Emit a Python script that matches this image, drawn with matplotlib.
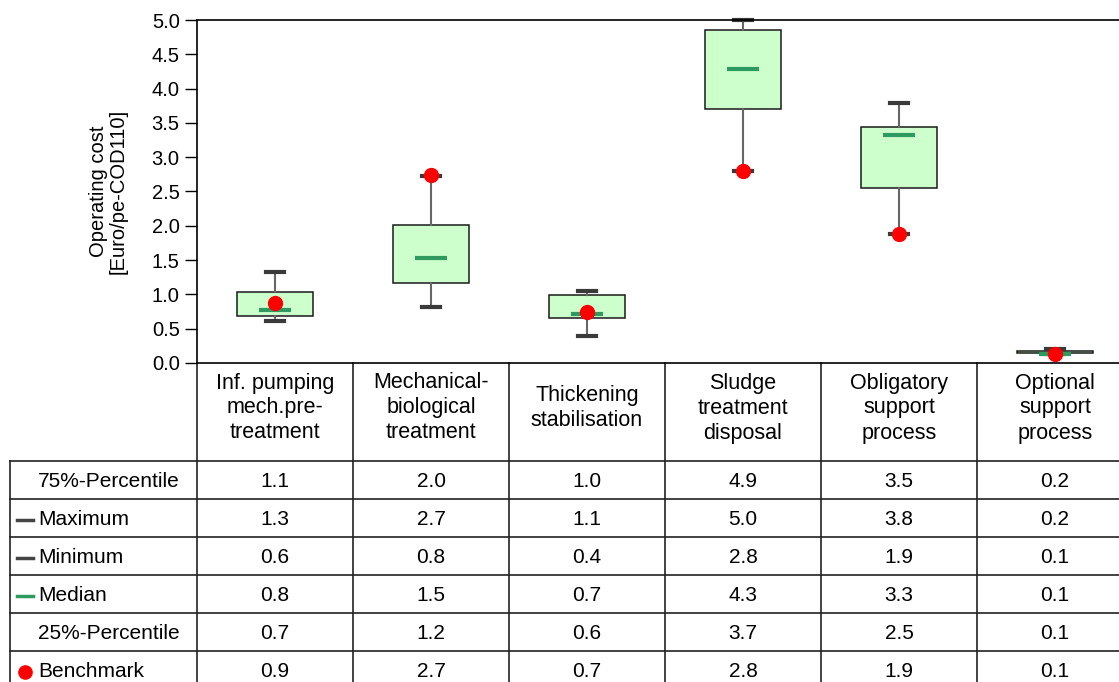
import matplotlib.pyplot as plt
import matplotlib.transforms as mtransforms

plt.rcParams['font.family'] = ['Liberation Sans', 'DejaVu Sans']

# box data (Euro/pe-COD110)
categories = ['Inf. pumping\nmech.pre-\ntreatment', 'Mechanical-\nbiological\ntreatment',
              'Thickening\nstabilisation', 'Sludge\ntreatment\ndisposal',
              'Obligatory\nsupport\nprocess', 'Optional\nsupport\nprocess']
q75 = [1.04, 2.01, 0.99, 4.85, 3.44, 0.18]
maximum = [1.32, 2.73, 1.05, 5.00, 3.79, 0.21]
minimum = [0.61, 0.82, 0.39, 2.80, 1.88, 0.13]
median = [0.77, 1.53, 0.71, 4.29, 3.32, 0.13]
q25 = [0.68, 1.17, 0.65, 3.70, 2.55, 0.14]
benchmark = [0.87, 2.74, 0.74, 2.80, 1.88, 0.13]

# table text
row_labels = ['75%-Percentile', 'Maximum', 'Minimum', 'Median', '25%-Percentile', 'Benchmark']
table_vals = [
    ['1.1', '2.0', '1.0', '4.9', '3.5', '0.2'],
    ['1.3', '2.7', '1.1', '5.0', '3.8', '0.2'],
    ['0.6', '0.8', '0.4', '2.8', '1.9', '0.1'],
    ['0.8', '1.5', '0.7', '4.3', '3.3', '0.1'],
    ['0.7', '1.2', '0.6', '3.7', '2.5', '0.1'],
    ['0.9', '2.7', '0.7', '2.8', '1.9', '0.1'],
]
yticks = [0.0, 0.5, 1.0, 1.5, 2.0, 2.5, 3.0, 3.5, 4.0, 4.5, 5.0]

W, H = 1119, 682
fig = plt.figure(figsize=(W / 100, H / 100), dpi=100)

# overlay in pixel coords for the table part
over = fig.add_axes([0, 0, 1, 1])
over.set_xlim(0, W)
over.set_ylim(H, 0)
over.axis('off')

ax_left, ax_right, ax_top, ax_bot = 197, 1133, 20, 363
ax = fig.add_axes([ax_left / W, (H - ax_bot) / H, (ax_right - ax_left) / W, (ax_bot - ax_top) / H])
ax.set_facecolor('none')

pos = list(range(1, len(categories) + 1))
stats = []
for i in range(len(categories)):
    stats.append(dict(med=median[i], q1=q25[i], q3=q75[i], whislo=minimum[i], whishi=maximum[i]))

ax.bxp(stats, positions=pos, widths=0.49, capwidths=0.12, showfliers=False,
       patch_artist=True,
       boxprops=dict(facecolor='#ccffcc', edgecolor='#1a1a1a', linewidth=1.1),
       whiskerprops=dict(color='#666666', linewidth=1.5),
       capprops=dict(color='#3a3a3a', linewidth=3),
       medianprops=dict(linewidth=0))
ax.hlines(median, [p - 0.105 for p in pos], [p + 0.105 for p in pos], color='#2e9a60', linewidth=3, zorder=4)
ax.plot(pos, benchmark, 'o', color='#ff0000', markersize=10, zorder=5, clip_on=False)
for ln in ax.lines:
    ln.set_clip_on(False)

ax.set_xlim(0.5, len(categories) + 0.5)
ax.set_ylim(0, 5)
ax.set_yticks(yticks)
ax.set_yticklabels([f'{t:.1f}' for t in yticks])
ax.set_xticks([])
ax.tick_params(axis='y', length=9, width=1, pad=3.5, labelsize=14.5)
ax.spines['right'].set_visible(False)
for s in ['left', 'top', 'bottom']:
    ax.spines[s].set_linewidth(1.2)
ax.set_ylabel('Operating cost\n[Euro/pe-COD110]', fontsize=14.5, labelpad=17, linespacing=1.05)

# table grid
lw = 1.2
col = '#222222'
blend = mtransforms.blended_transform_factory(ax.transData, over.transData)
row_top = 461
row_h = 38
over.plot([ax_left, ax_left], [ax_bot, H], color=col, lw=lw)
for k in range(len(categories)):
    over.plot([k + 1.5, k + 1.5], [ax_bot, H], color=col, lw=lw, transform=blend)
over.plot([10, 10], [row_top, H], color=col, lw=lw)
for r in range(len(row_labels)):
    y = row_top + r * row_h
    over.plot([10, W], [y, y], color=col, lw=lw)

# header labels
for k, name in enumerate(categories):
    over.text(k + 1, 408, name, transform=blend, ha='center', va='center',
              fontsize=15.5, linespacing=1.25)

# rows
for r, lab in enumerate(row_labels):
    yc = row_top + r * row_h + row_h / 2 + 1.5
    over.text(38, yc, lab, ha='left', va='center', fontsize=15)
    if lab in ('Maximum', 'Minimum'):
        over.plot([17, 33], [yc, yc], color='#444444', lw=2.5)
    elif lab == 'Median':
        over.plot([17, 33], [yc, yc], color='#2e9a60', lw=2.5)
    elif lab == 'Benchmark':
        over.plot([25], [yc], 'o', color='#ff0000', markersize=9.5)
    for k, v in enumerate(table_vals[r]):
        over.text(k + 1, yc, v, transform=blend, ha='center', va='center', fontsize=15)

fig.savefig('out.png', dpi=100)
